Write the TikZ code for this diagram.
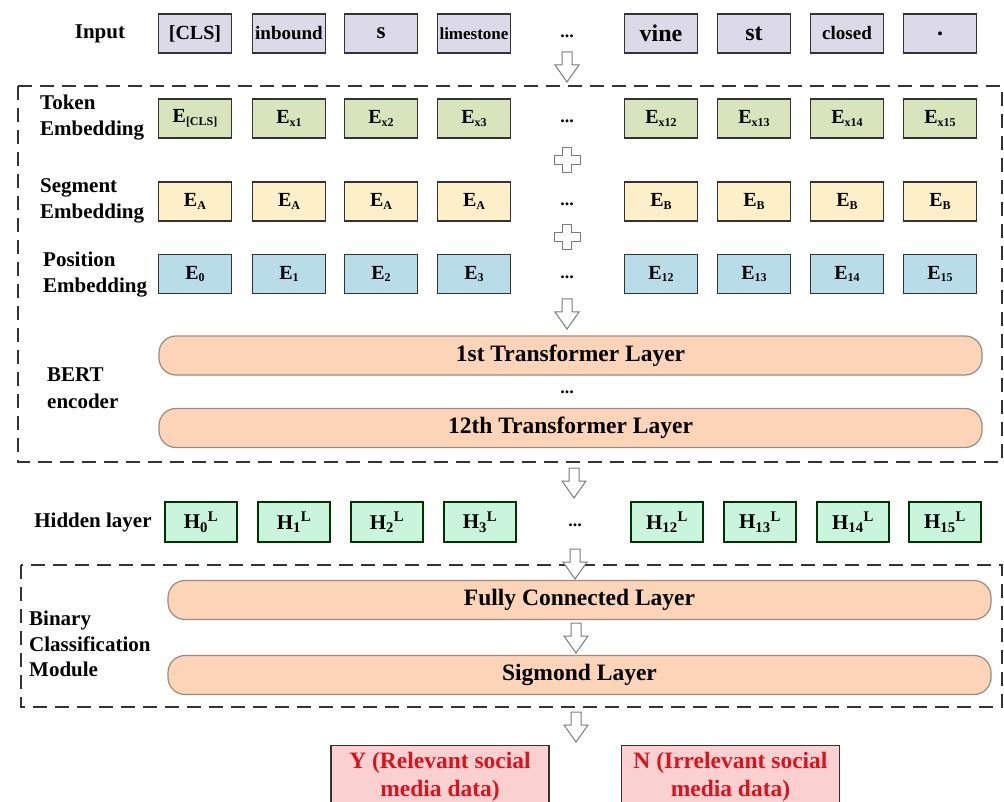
\documentclass[tikz,border=0pt]{standalone}
\usepackage{fontspec}
\setmainfont{Liberation Serif}
\newcommand\fsz[1]{\fontsize{#1pt}{#1pt}\selectfont}
\newcommand\fszb[2]{\fontsize{#1pt}{#2pt}\selectfont}
\newcommand\lo[1]{\raisebox{-0.3ex}{\fsz{12}#1}}
\newcommand\hid[1]{H\textsubscript{#1}\textsuperscript{L}}
\definecolor{inputc}{HTML}{DCD9E8}
\definecolor{tokenc}{HTML}{D8E4BC}
\definecolor{segc}{HTML}{FDEFC7}
\definecolor{posc}{HTML}{B8DDE8}
\definecolor{hidc}{HTML}{C8F5DC}
\definecolor{layc}{HTML}{FCD5B9}
\definecolor{layline}{HTML}{9C8A80}
\definecolor{outc}{HTML}{FBD0D0}
\definecolor{outtext}{HTML}{D9141E}
\definecolor{edge}{HTML}{333333}
\definecolor{hollow}{HTML}{7A7A7A}
\tikzset{
  cell/.style={draw=edge, line width=1.3pt, minimum width=73pt, minimum height=39pt,
    inner sep=0pt, font=\bfseries\fsz{20}},
  inbox/.style={cell, fill=inputc},
  tokbox/.style={cell, fill=tokenc},
  segbox/.style={cell, fill=segc},
  posbox/.style={cell, fill=posc},
  hidbox/.style={cell, fill=hidc, draw=black!80!green, minimum width=72pt, minimum height=40pt, font=\bfseries\fsz{21}},
  layer/.style={draw=layline, line width=1.2pt, fill=layc, rounded corners=17pt,
    minimum height=39pt, inner sep=0pt, font=\bfseries\fsz{23.5}},
  rowlabel/.style={anchor=west, align=left, inner sep=0pt, font=\bfseries\fszb{21}{26}},
  dots/.style={inner sep=0pt, font=\bfseries\fsz{18}},
  frame/.style={draw=edge, line width=1.5pt, dash pattern=on 14pt off 8pt},
  outbox/.style={draw=edge, line width=1.3pt, fill=outc, minimum width=218pt, minimum height=62pt,
    inner sep=0pt, anchor=north, align=center, text=outtext, font=\bfseries\fszb{23.5}{28}},
  hollowline/.style={draw=hollow, line width=1pt, fill=white},
  harrow/.pic={\path[hollowline] (-5,0) -- (5,0) -- (5,13) -- (12,13) -- (0,30) -- (-12,13) -- (-5,13) -- cycle;},
  hplus/.pic={\path[hollowline] (-4.5,-12.5) -- (4.5,-12.5) -- (4.5,-4.5) -- (13,-4.5) -- (13,4.5)
     -- (4.5,4.5) -- (4.5,12.5) -- (-4.5,12.5) -- (-4.5,4.5) -- (-13,4.5) -- (-13,-4.5) -- (-4.5,-4.5) -- cycle;}
}
\begin{document}
\begin{tikzpicture}[x=1pt, y=-1pt]
\useasboundingbox (0,0) rectangle (1004,802);
\begin{scope}
\clip (0,0) rectangle (1004,802);

% dashed frames: BERT encoder and classification module
\draw[frame] (18,86) rectangle (1002,462);
\draw[frame] (21,565) rectangle (1002,707);

% input tokens
\node[rowlabel, anchor=center] (lin) at (100,34) {Input};
\node[inbox] (i1) at (195,33.5) {[CLS]};
\node[inbox, font=\bfseries\fsz{19}] (i2) at (289,33.5) {inbound};
\node[inbox, font=\bfseries\fsz{23}] (i3) at (381,33.5) {s};
\node[inbox, font=\bfseries\fsz{17}] (i4) at (474,33.5) {limestone};
\node[dots] (idots) at (567,36) {...};
\node[inbox, font=\bfseries\fsz{24}] (i5) at (661,33.5) {vine};
\node[inbox, font=\bfseries\fsz{24}] (i6) at (754,33.5) {st};
\node[inbox, font=\bfseries\fsz{19}] (i7) at (847,33.5) {closed};
\node[inbox, font=\bfseries\fsz{24}] (i8) at (940,33.5) {.};

% token embeddings
\node[rowlabel] (ltok) at (40,118) {Token\\Embedding};
\node[tokbox] (t1) at (195,118.5) {E\lo{[CLS]}};
\node[tokbox] (t2) at (289,118.5) {E\lo{x1}};
\node[tokbox] (t3) at (381,118.5) {E\lo{x2}};
\node[tokbox] (t4) at (474,118.5) {E\lo{x3}};
\node[dots] (tdots) at (567,121) {...};
\node[tokbox] (t5) at (661,118.5) {E\lo{x12}};
\node[tokbox] (t6) at (754,118.5) {E\lo{x13}};
\node[tokbox] (t7) at (847,118.5) {E\lo{x14}};
\node[tokbox] (t8) at (940,118.5) {E\lo{x15}};

% segment embeddings
\node[rowlabel] (lseg) at (40,201) {Segment\\Embedding};
\node[segbox] (s1) at (195,201.5) {E\lo{A}};
\node[segbox] (s2) at (289,201.5) {E\lo{A}};
\node[segbox] (s3) at (381,201.5) {E\lo{A}};
\node[segbox] (s4) at (474,201.5) {E\lo{A}};
\node[dots] (sdots) at (567,204) {...};
\node[segbox] (s5) at (661,201.5) {E\lo{B}};
\node[segbox] (s6) at (754,201.5) {E\lo{B}};
\node[segbox] (s7) at (847,201.5) {E\lo{B}};
\node[segbox] (s8) at (940,201.5) {E\lo{B}};

% position embeddings
\node[rowlabel] (lpos) at (43,275) {Position\\Embedding};
\node[posbox] (p1) at (195,274) {E\lo{0}};
\node[posbox] (p2) at (289,274) {E\lo{1}};
\node[posbox] (p3) at (381,274) {E\lo{2}};
\node[posbox] (p4) at (474,274) {E\lo{3}};
\node[dots] (pdots) at (567,277) {...};
\node[posbox] (p5) at (661,274) {E\lo{12}};
\node[posbox] (p6) at (754,274) {E\lo{13}};
\node[posbox] (p7) at (847,274) {E\lo{14}};
\node[posbox] (p8) at (940,274) {E\lo{15}};

% transformer stack
\node[rowlabel, font=\bfseries\fszb{21}{27}] (lbert) at (47,388) {BERT\\encoder};
\node[layer, minimum width=823pt] (tf1) at (570.5,355.5) {1st Transformer Layer};
\node[dots] (tfdots) at (567,392) {...};
\node[layer, minimum width=823pt] (tf12) at (570.5,428) {12th Transformer Layer};

% hidden layer
\node[rowlabel, anchor=center] (lhid) at (93,522) {Hidden layer};
\node[hidbox] (h1) at (201,522) {\hid{0}};
\node[hidbox] (h2) at (294,522) {\hid{1}};
\node[hidbox] (h3) at (387,522) {\hid{2}};
\node[hidbox] (h4) at (480,522) {\hid{3}};
\node[dots] (hdots) at (575,525) {...};
\node[hidbox] (h5) at (667,522) {\hid{12}};
\node[hidbox] (h6) at (760,522) {\hid{13}};
\node[hidbox] (h7) at (853,522) {\hid{14}};
\node[hidbox] (h8) at (945,522) {\hid{15}};

% classification module
\node[rowlabel, font=\bfseries\fszb{21}{25.5}] (lbin) at (29,644) {Binary\\Classification\\Module};
\node[layer, minimum width=823pt] (fc) at (579.5,600) {Fully Connected Layer};
\node[layer, minimum width=823pt] (sig) at (579.5,675) {Sigmond Layer};

% outputs
\node[outbox] (ys) at (440,745) {Y (Relevant social\\media data)};
\node[outbox] (ns) at (730.5,745) {N (Irrelevant social\\media data)};

% hollow flow arrows and plus signs
\pic at (567,52) {harrow};
\pic at (567,160) {hplus};
\pic at (567,237) {hplus};
\pic at (567,299) {harrow};
\pic at (574,468) {harrow};
\pic at (575,549) {harrow};
\pic at (576,623) {harrow};
\pic at (576,712) {harrow};
\end{scope}
\end{tikzpicture}
\end{document}
